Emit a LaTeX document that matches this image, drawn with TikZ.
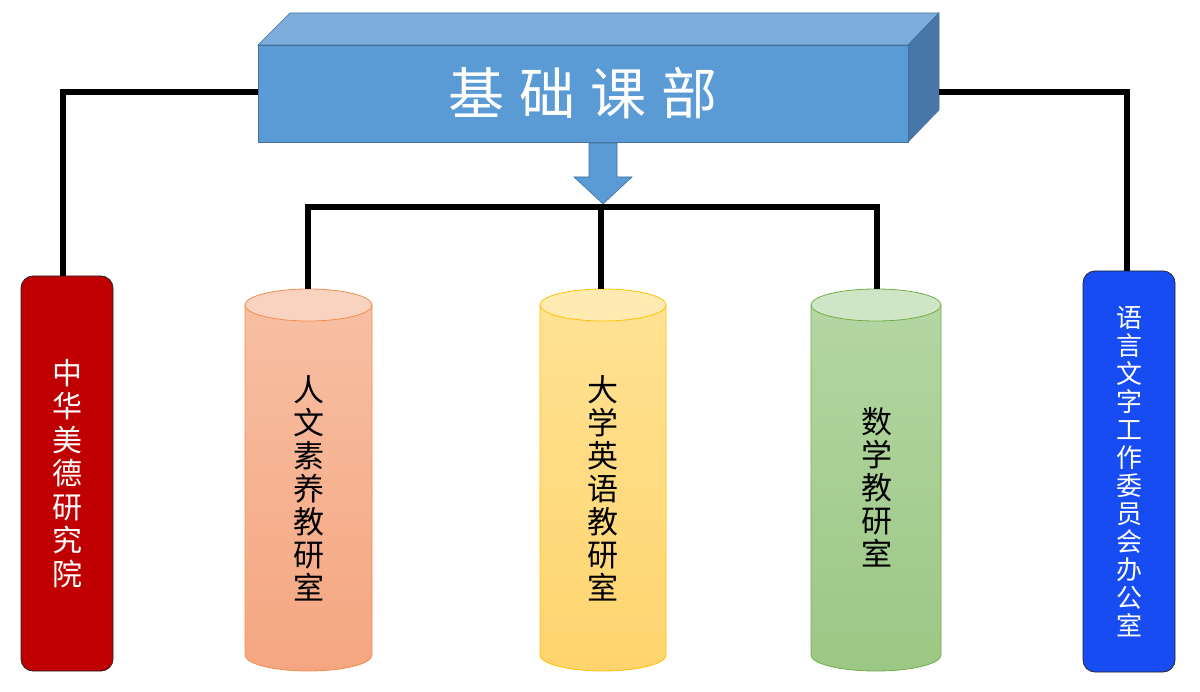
\documentclass[tikz,border=0pt]{standalone}
\usepackage{fontspec}
\newfontfamily\cjk{Noto Sans CJK SC}
\usetikzlibrary{calc}
\definecolor{bfront}{HTML}{5B9BD5}
\definecolor{btop}{HTML}{7CACDC}
\definecolor{bside}{HTML}{4677A8}
\definecolor{bedge}{HTML}{41719C}
\definecolor{oTop}{HTML}{F9D3C0}
\definecolor{oA}{HTML}{F7BFA2}
\definecolor{oB}{HTML}{F5A681}
\definecolor{oLine}{HTML}{F08E4E}
\definecolor{yTop}{HTML}{FFEBB2}
\definecolor{yA}{HTML}{FFE293}
\definecolor{yB}{HTML}{FFD46E}
\definecolor{yLine}{HTML}{FFC000}
\definecolor{gTop}{HTML}{D0E5C5}
\definecolor{gA}{HTML}{B4D6A3}
\definecolor{gB}{HTML}{9CC784}
\definecolor{gLine}{HTML}{70AD47}
\definecolor{redbox}{HTML}{C00000}
\definecolor{bluebox}{HTML}{164CF2}
\tikzset{
  conn/.style={line width=5.5pt, black},
  sidebox/.style={draw=black!85, line width=0.8pt, rounded corners=12pt,
    minimum width=92pt, inner sep=0pt},
  cyltext/.style={font=\cjk\fontsize{31}{33}\selectfont, align=center, text=black},
}
\begin{document}
\begin{tikzpicture}[x=1pt,y=-1pt]
\useasboundingbox (0,0) rectangle (1200,692);
% 3D title box
\fill[btop, draw=bedge, line width=0.6pt] (258,45) -- (290,13) -- (939,13) -- (908,45) -- cycle;
\fill[bside, draw=bedge, line width=0.6pt] (908,45) -- (939,13) -- (939,110) -- (908,142) -- cycle;
\node[fill=bfront, draw=bedge, line width=0.6pt, minimum width=650pt, minimum height=97pt,
  inner sep=0pt, text=white, font=\cjk\fontsize{56}{60}\selectfont] (top) at (583,93.5)
  {基\hspace{15pt}础\hspace{15pt}课\hspace{15pt}部};
\coordinate (topR) at (939,92);
% block arrow
\fill[bfront, draw=bedge, line width=0.6pt] (589,143) -- (617,143) -- (617,177) -- (632,177)
  -- (603,204) -- (574,177) -- (589,177) -- cycle;
% side boxes
\node[sidebox, fill=redbox, minimum height=395pt, text=white,
  font=\cjk\fontsize{30}{33.5}\selectfont, align=center] (red) at (67,473.5)
  {中\\华\\美\\德\\研\\究\\院};
\node[sidebox, fill=bluebox, minimum height=401pt, text=white,
  font=\cjk\fontsize{26}{28}\selectfont, align=center] (blue) at (1129,471.5)
  {语\\言\\文\\字\\工\\作\\委\\员\\会\\办\\公\\室};
% orange cylinder
\shade[top color=oA, bottom color=oB, draw=oLine, line width=0.8pt]
  (245,305) -- (245,655) arc[start angle=180, end angle=0, x radius=63.5, y radius=16] -- (372,305) -- cycle;
\filldraw[fill=oTop, draw=oLine, line width=0.8pt] (308.5,305) ellipse[x radius=63.5, y radius=16];
\node[minimum width=127pt, minimum height=32pt, inner sep=0pt] (c1) at (308.5,305) {};
\node[cyltext] (t1) at (309,488) {人\\文\\素\\养\\教\\研\\室};
% yellow cylinder
\shade[top color=yA, bottom color=yB, draw=yLine, line width=0.8pt]
  (540,305) -- (540,655) arc[start angle=180, end angle=0, x radius=63, y radius=16] -- (666,305) -- cycle;
\filldraw[fill=yTop, draw=yLine, line width=0.8pt] (603,305) ellipse[x radius=63, y radius=16];
\node[minimum width=126pt, minimum height=32pt, inner sep=0pt] (c2) at (603,305) {};
\node[cyltext] (t2) at (603,488) {大\\学\\英\\语\\教\\研\\室};
% green cylinder
\shade[top color=gA, bottom color=gB, draw=gLine, line width=0.8pt]
  (811,305) -- (811,655) arc[start angle=180, end angle=0, x radius=65, y radius=16] -- (941,305) -- cycle;
\filldraw[fill=gTop, draw=gLine, line width=0.8pt] (876,305) ellipse[x radius=65, y radius=16];
\node[minimum width=130pt, minimum height=32pt, inner sep=0pt] (c3) at (876,305) {};
\node[cyltext] (t3) at (877,487) {数\\学\\教\\研\\室};
% connectors
\coordinate (bl) at (308,207);
\coordinate (bm) at (601,207);
\coordinate (br) at (877,207);
\draw[conn] (bl |- c1.north) -- (bl) -- (br) -- (br |- c3.north);
\draw[conn] (bm) -- (bm |- c2.north);
\coordinate (lc) at (63,92);
\draw[conn] (top.west |- lc) -- (lc) -- (lc |- red.north);
\coordinate (rc) at (1127,92);
\draw[conn] (topR) -- (rc) -- (rc |- blue.north);
\end{tikzpicture}
\end{document}
